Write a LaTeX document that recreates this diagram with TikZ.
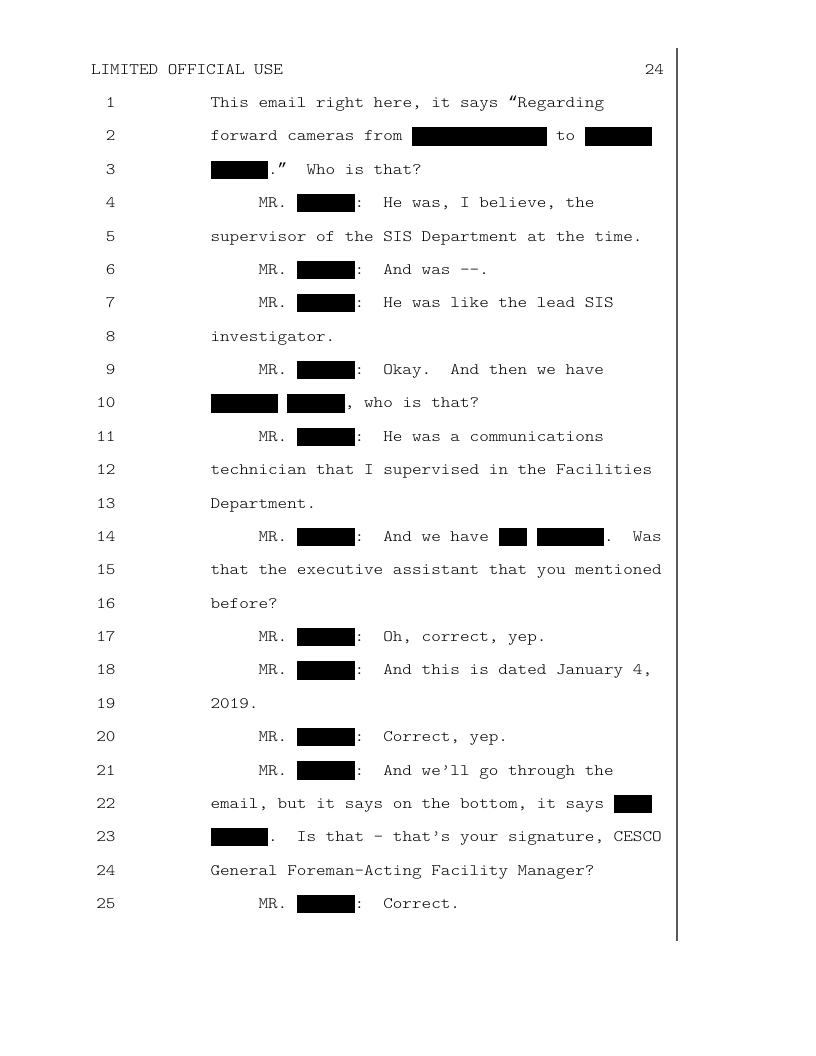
\documentclass[tikz,border=0pt]{standalone}
\usepackage{fontspec}
\setmonofont{Latin Modern Mono Light}[FakeStretch=1.1429]
\newfontfamily\quotefont{Liberation Mono}
\usepackage{tikz}
\newlength\cw
\setlength\cw{7.2pt}
\newcommand\blackout[1]{\rule[-3.5pt]{#1\cw}{13.7pt}}
\newcommand\openq{{\quotefont “}}
\newcommand\closeq{{\quotefont ”}}
\tikzset{
  txt/.style={anchor=base west, inner sep=0pt, outer sep=0pt},
  num/.style={anchor=base east, inner sep=0pt, outer sep=0pt}
}
\begin{document}
\frenchspacing
\begin{tikzpicture}[x=0.75pt, y=-0.75pt, font=\ttfamily\fontsize{12pt}{14pt}\selectfont]
\useasboundingbox (0,0) rectangle (816,1056);
% header
\node [txt] (head) at (91,74.5) {LIMITED OFFICIAL USE};
\node [num] (page) at (664,74.5) {24};
\draw [black!65, line width=0.8pt] (677,48) -- (677,941);
% line numbers
\foreach \i in {1,...,25}
  \node [num] (n\i) at (115.5,{107.5+(\i-1)*33.375}) {\i};
% text
\node [txt] (l1) at (210.5,107.5) {This email right here, it says \openq Regarding};
\node [txt] (l2) at (210.5,140.9) {forward cameras from \blackout{14} to \blackout{7}};
\node [txt] (l3) at (210.5,174.3) {\blackout{6}.\closeq~~Who is that?};
\node [txt] (l4) at (258.5,207.6) {MR. \blackout{6}:~~He was, I believe, the};
\node [txt] (l5) at (210.5,241.0) {supervisor of the SIS Department at the time.};
\node [txt] (l6) at (258.5,274.4) {MR. \blackout{6}:~~And was -{}-.};
\node [txt] (l7) at (258.5,307.8) {MR. \blackout{6}:~~He was like the lead SIS};
\node [txt] (l8) at (210.5,341.1) {investigator.};
\node [txt] (l9) at (258.5,374.5) {MR. \blackout{6}:~~Okay.~~And then we have};
\node [txt] (l10) at (210.5,407.9) {\blackout{7} \blackout{6}, who is that?};
\node [txt] (l11) at (258.5,441.3) {MR. \blackout{6}:~~He was a communications};
\node [txt] (l12) at (210.5,474.6) {technician that I supervised in the Facilities};
\node [txt] (l13) at (210.5,508.0) {Department.};
\node [txt] (l14) at (258.5,541.4) {MR. \blackout{6}:~~And we have \blackout{3} \blackout{7}.~~Was};
\node [txt] (l15) at (210.5,574.8) {that the executive assistant that you mentioned};
\node [txt] (l16) at (210.5,608.1) {before?};
\node [txt] (l17) at (258.5,641.5) {MR. \blackout{6}:~~Oh, correct, yep.};
\node [txt] (l18) at (258.5,674.9) {MR. \blackout{6}:~~And this is dated January 4,};
\node [txt] (l19) at (210.5,708.3) {2019.};
\node [txt] (l20) at (258.5,741.6) {MR. \blackout{6}:~~Correct, yep.};
\node [txt] (l21) at (258.5,775.0) {MR. \blackout{6}:~~And we’ll go through the};
\node [txt] (l22) at (210.5,808.4) {email, but it says on the bottom, it says \blackout{4}};
\node [txt] (l23) at (210.5,841.8) {\blackout{6}.~~Is that - that’s your signature, CESCO};
\node [txt] (l24) at (210.5,875.1) {General Foreman-Acting Facility Manager?};
\node [txt] (l25) at (258.5,908.5) {MR. \blackout{6}:~~Correct.};
\end{tikzpicture}
\end{document}
